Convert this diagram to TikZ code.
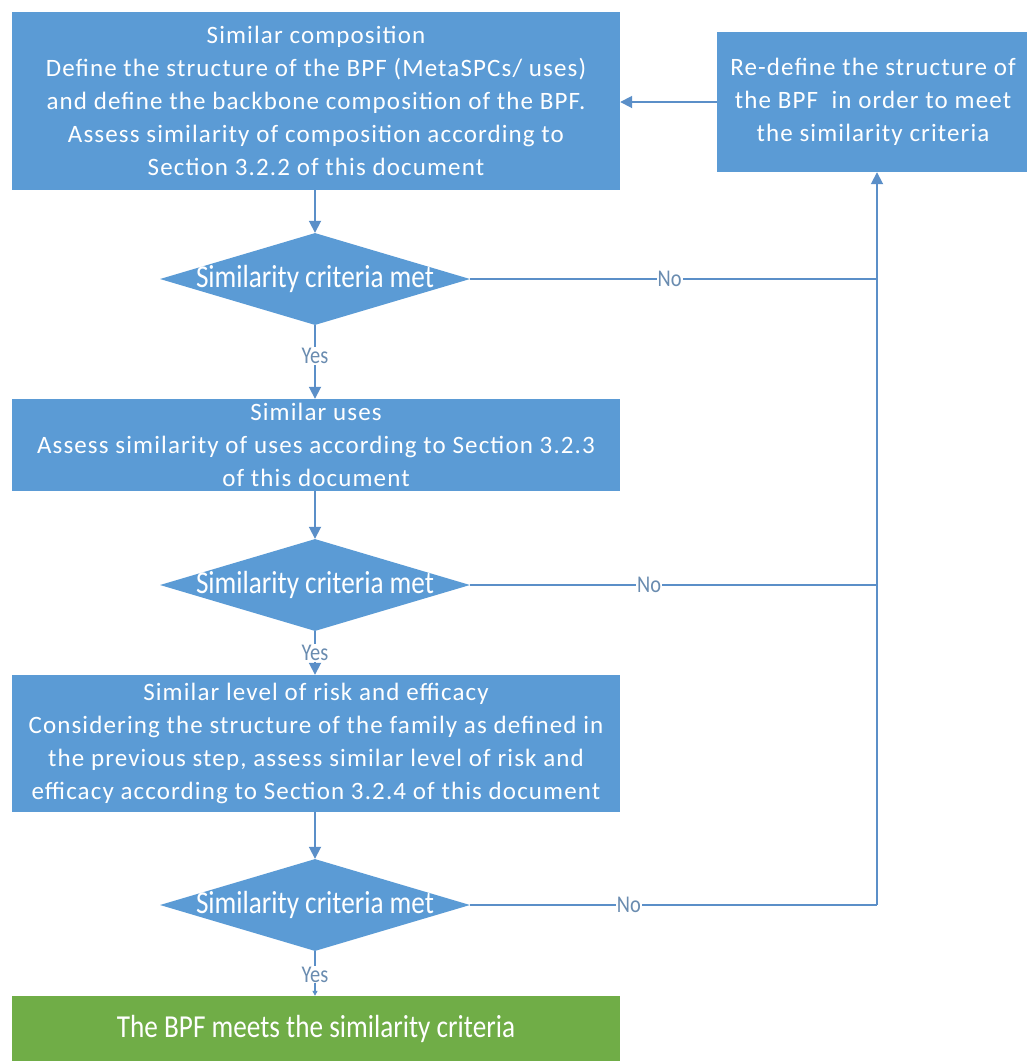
\documentclass[tikz,border=0pt]{standalone}
\usepackage{fontspec}
\setmainfont{Carlito}
\newfontfamily\boxfont[LetterSpace=4.5]{Carlito}
\newfontfamily\condfont[FakeStretch=0.85]{Carlito}
\usetikzlibrary{shapes.geometric,arrows.meta}
\definecolor{boxblue}{HTML}{5B9BD5}
\definecolor{boxgreen}{HTML}{70AD47}
\definecolor{lineblue}{HTML}{5B8FC8}
\definecolor{lblcol}{HTML}{6A8CB0}
\tikzset{
  procbox/.style={rectangle, fill=boxblue, draw=none, text=white, align=center,
    font=\boxfont\fontsize{25}{33}\selectfont, inner sep=0pt},
  endbox/.style={rectangle, fill=boxgreen, draw=none, text=white, align=center,
    font=\condfont\fontsize{32}{36}\selectfont, inner sep=0pt},
  decision/.style={diamond, fill=boxblue, draw=none, inner sep=0pt,
    minimum width=310pt, minimum height=92pt},
  dtext/.style={text=white, font=\condfont\fontsize{32}{36}\selectfont},
  conn/.style={draw=lineblue, line width=1.8pt},
  arr/.style={conn, -{Triangle[length=12pt,width=12pt]}},
  smallarr/.style={conn, -{Triangle[length=5pt,width=5pt]}},
  lbl/.style={text=lblcol, font=\condfont\fontsize{24}{26}\selectfont, fill=white, inner sep=1pt},
}
\begin{document}
\begin{tikzpicture}[x=1pt,y=-1pt]
\useasboundingbox (0,0) rectangle (1027,1061);
\fill[white] (0,0) rectangle (1027,1061);

\node[procbox, minimum width=608pt, minimum height=178pt] (b1) at (316,101)
  {Similar composition\\Define the structure of the BPF (MetaSPCs/ uses)\\and define the backbone composition of the BPF.\\Assess similarity of composition according to\\Section 3.2.2 of this document};
\node[procbox, minimum width=312pt, minimum height=140pt] (rd) at (873,102)
  {Re-define the structure of\\the BPF\ \ in order to meet\\the similarity criteria};

\node[decision] (d1) at (315,279) {};
\node[dtext] (d1t) at (d1.center) {Similarity criteria met};

\node[procbox, minimum width=608pt, minimum height=92pt] (b3) at (316,445)
  {Similar uses\\Assess similarity of uses according to Section 3.2.3\\of this document};

\node[decision] (d2) at (315,585) {};
\node[dtext] (d2t) at (d2.center) {Similarity criteria met};

\node[procbox, minimum width=608pt, minimum height=137pt] (b4) at (316,743.5)
  {Similar level of risk and efficacy\\Considering the structure of the family as defined in\\the previous step, assess similar level of risk and\\efficacy according to Section 3.2.4 of this document};

\node[decision] (d3) at (315,905) {};
\node[dtext] (d3t) at (d3.center) {Similarity criteria met};

\node[endbox, minimum width=608pt, minimum height=66pt] (g) at (316,1029)
  {The BPF meets the similarity criteria};

\coordinate (vx) at (877,905);

% vertical flow
\draw[arr] (d1.north |- b1.south) -- (d1.north);
\draw[arr] (d1.south) -- node[lbl, pos=0.42] (y1) {Yes} (d1.south |- b3.north);
\draw[arr] (d2.north |- b3.south) -- (d2.north);
\draw[arr] (d2.south) -- node[lbl, pos=0.5] (y2) {Yes} (d2.south |- b4.north);
\draw[arr] (d3.north |- b4.south) -- (d3.north);
\draw[smallarr] (d3.south) -- node[lbl, pos=0.52] (y3) {Yes} (d3.south |- g.north);

% No branches
\draw[conn] (d1.east) -- node[lbl, pos=0.49] (n1) {No} (d1.east -| vx);
\draw[conn] (d2.east) -- node[lbl, pos=0.44] (n2) {No} (d2.east -| vx);
\draw[conn] (d3.east) -- node[lbl, pos=0.39] (n3) {No} (vx);
\draw[arr] (vx) -- (vx |- rd.south);
\draw[arr] (rd.west) -- (b1.east |- rd.west);
\end{tikzpicture}
\end{document}
